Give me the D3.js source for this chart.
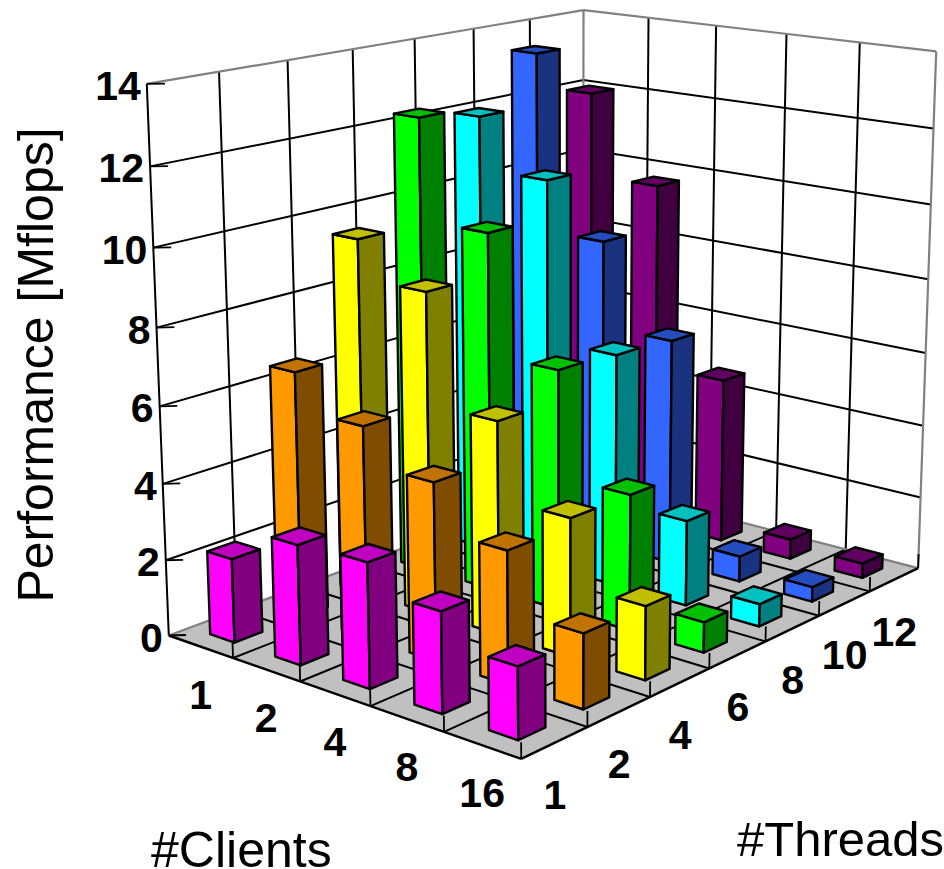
<!DOCTYPE html>
<html>
<head>
<meta charset="utf-8">
<script src="https://cdn.jsdelivr.net/npm/d3@7/dist/d3.min.js"></script>
<style>
  html, body { margin: 0; padding: 0; background: #fff; }
  svg { display: block; }
  text { font-family: "Liberation Sans", Arial, sans-serif; fill: #000; }
</style>
</head>
<body>
<svg id="chart" width="944" height="869"></svg>
<script>
const threads = ["1", "2", "4", "6", "8", "10", "12"];
const clients = ["1", "2", "4", "8", "16"];
const zTicks = [0, 2, 4, 6, 8, 10, 12, 14];

// one row per client count, one value per thread count
const clients1 = [2.2, 6.5, 9.5, 12.3, 12.0, 13.4, 12.0];
const clients2 = [3.1, 5.55, 8.5, 9.6, 10.6, 8.55, 9.7];
const clients4 = [3.2, 4.6, 5.6, 6.4, 6.3, 6.2, 4.6];
const clients8 = [2.55, 3.4, 3.6, 3.6, 2.3, 0.7, 0.55];
const clients16 = [1.8, 1.9, 1.9, 0.8, 0.6, 0.4, 0.4];
const rows = [clients1, clients2, clients4, clients8, clients16];

const faceFront = ["#ff00ff", "#ff9900", "#ffff00", "#00ff00", "#00ffff", "#3366ff", "#800080"];
const faceSide = ["#800080", "#804d00", "#808000", "#008000", "#008080", "#1a3380", "#400040"];
const faceTop = ["#c000c0", "#c07300", "#c0c000", "#00c000", "#00c0c0", "#264dc0", "#600060"];

const barU = 0.41;
const barV = 0.38;
const barShiftU = 0.02;

const uScale = d3.scaleBand().domain(threads).range([0, threads.length]);
const vScale = d3.scaleBand().domain(clients).range([0, clients.length]);
const zScale = d3.scaleLinear().domain([0, 14]).range([0, 14]);
const uMax = threads.length;
const vMax = clients.length;

// camera calibration: box position -> picture position
const anchors = [
  [0, 0, 0, 168, 636], [0, 5, 0, 522, 758], [7, 5, 0, 919, 568], [7, 0, 0, 582, 480],
  [0, 0, 14, 146, 84], [7, 0, 14, 584, 10], [7, 5, 14, 937, 52],
  [0, 0, 12, 150, 166], [7, 0, 12, 584, 81], [7, 5, 12, 933, 128],
  [0, 0, 2, 166, 560], [7, 5, 8, 927, 278],
  [0, 1, 0, 234, 658], [0, 2, 0, 301, 682], [0, 3, 0, 370, 706], [0, 4, 0, 444, 732],
  [1, 5, 0, 588, 727], [2, 5, 0, 650, 697], [3, 5, 0, 708, 668],
  [4, 5, 0, 764, 642], [5, 5, 0, 820, 616], [6, 5, 0, 870, 593],
];

function solve(A, b) {
  const n = b.length;
  const m = A.map((r, i) => [...r, b[i]]);
  for (let i = 0; i < n; i++) {
    let p = i;
    for (let k = i + 1; k < n; k++) if (Math.abs(m[k][i]) > Math.abs(m[p][i])) p = k;
    [m[i], m[p]] = [m[p], m[i]];
    for (let k = i + 1; k < n; k++) {
      const f = m[k][i] / m[i][i];
      for (let j = i; j <= n; j++) m[k][j] -= f * m[i][j];
    }
  }
  const x = new Array(n).fill(0);
  for (let i = n - 1; i >= 0; i--) {
    let s = m[i][n];
    for (let j = i + 1; j < n; j++) s -= m[i][j] * x[j];
    x[i] = s / m[i][i];
  }
  return x;
}

function fitCamera() {
  const rowsA = [];
  const rhs = [];
  anchors.forEach(([u, v, z, x, y]) => {
    rowsA.push([u, v, z, 1, 0, 0, 0, 0, -x * u, -x * v, -x * z]);
    rhs.push(x);
    rowsA.push([0, 0, 0, 0, u, v, z, 1, -y * u, -y * v, -y * z]);
    rhs.push(y);
  });
  const ata = d3.range(11).map(i => d3.range(11).map(j => d3.sum(rowsA, r => r[i] * r[j])));
  const atb = d3.range(11).map(i => d3.sum(rowsA, (r, k) => r[i] * rhs[k]));
  return solve(ata, atb);
}

const cam = fitCamera();

function project(u, v, z) {
  const w = cam[8] * u + cam[9] * v + cam[10] * z + 1;
  return [
    (cam[0] * u + cam[1] * v + cam[2] * z + cam[3]) / w,
    (cam[4] * u + cam[5] * v + cam[6] * z + cam[7]) / w,
  ];
}

const svg = d3.select("#chart");
const line = d3.line();

function seg(g, a, b, color, width) {
  g.append("path")
    .attr("d", line([project(...a), project(...b)]))
    .attr("fill", "none")
    .attr("stroke", color)
    .attr("stroke-width", width);
}

function poly(g, pts, fill) {
  g.append("path")
    .attr("d", line(pts.map(p => project(...p))) + "Z")
    .attr("fill", fill)
    .attr("stroke", "#000")
    .attr("stroke-width", 2.4)
    .attr("stroke-linejoin", "round");
}

// walls
const walls = svg.append("g");
zTicks.slice(1, -1).forEach(t => {
  const z = zScale(t);
  walls.append("path")
    .attr("d", line([[0, 0, z], [uMax, 0, z], [uMax, vMax, z]].map(p => project(...p))))
    .attr("fill", "none").attr("stroke", "#000").attr("stroke-width", 2);
});
d3.range(1, uMax).forEach(u => seg(walls, [u, 0, 0], [u, 0, 14], "#000", 2));
d3.range(1, vMax).forEach(v => seg(walls, [uMax, v, 0], [uMax, v, 14], "#000", 2));
seg(walls, [0, 0, 14], [uMax, 0, 14], "#808080", 2.2);
seg(walls, [uMax, 0, 14], [uMax, vMax, 14], "#808080", 2.2);
seg(walls, [uMax, 0, 0], [uMax, 0, 14], "#808080", 2.2);
seg(walls, [uMax, vMax, 0], [uMax, vMax, 14], "#808080", 2.2);
seg(walls, [0, 0, 0], [0, 0, 14], "#000", 2);

// floor
const floor = svg.append("g");
floor.append("path")
  .attr("d", line([[0, 0, 0], [0, vMax, 0], [uMax, vMax, 0], [uMax, 0, 0]].map(p => project(...p))) + "Z")
  .attr("fill", "#c0c0c0");
d3.range(1, uMax).forEach(u => seg(floor, [u, 0, 0], [u, vMax, 0], "#000", 2));
d3.range(1, vMax).forEach(v => seg(floor, [0, v, 0], [uMax, v, 0], "#000", 2));
seg(floor, [0, 0, 0], [uMax, 0, 0], "#808080", 2.2);
seg(floor, [uMax, 0, 0], [uMax, vMax, 0], "#808080", 2.2);
seg(floor, [0, 0, 0], [0, vMax, 0], "#000", 2.4);
seg(floor, [0, vMax, 0], [uMax, vMax, 0], "#000", 2.4);

// ticks
d3.range(1, vMax + 1).forEach(v => seg(floor, [0, v, 0], [0, v, 0.4], "#000", 1.8));
d3.range(1, uMax + 1).forEach(u => seg(floor, [u, vMax, 0], [u, vMax, 0.4], "#000", 1.8));
zTicks.forEach(t => seg(floor, [0, 0, zScale(t)], [0.13, 0.13, zScale(t)], "#000", 1.8));

// bars, back to front
const bars = svg.append("g");
clients.forEach((c, ci) => {
  for (let ti = threads.length - 1; ti >= 0; ti--) {
    const t = threads[ti];
    const uc = uScale(t) + uScale.bandwidth() / 2 + barShiftU;
    const vc = vScale(c) + vScale.bandwidth() / 2;
    const u0 = uc - barU / 2, u1 = uc + barU / 2;
    const v0 = vc - barV / 2, v1 = vc + barV / 2;
    const z = zScale(rows[ci][ti]);
    const g = bars.append("g");
    poly(g, [[u0, v0, 0], [u0, v1, 0], [u0, v1, z], [u0, v0, z]], faceFront[ti]);
    poly(g, [[u0, v1, 0], [u1, v1, 0], [u1, v1, z], [u0, v1, z]], faceSide[ti]);
    poly(g, [[u0, v0, z], [u1, v0, z], [u1, v1, z], [u0, v1, z]], faceTop[ti]);
  }
});

// labels
const labels = svg.append("g").attr("font-weight", "bold").attr("font-size", 41);
zTicks.forEach(t => {
  const [x, y] = project(0, 0, zScale(t));
  labels.append("text")
    .attr("x", x - 6).attr("y", y + 16)
    .attr("text-anchor", "end")
    .text(t);
});
clients.forEach(c => {
  const [x, y] = project(0, vScale(c) + vScale.bandwidth() / 2, 0);
  labels.append("text")
    .attr("x", x).attr("y", y + 48 + 14)
    .attr("text-anchor", "middle")
    .text(c);
});
threads.forEach(t => {
  const [x, y] = project(uScale(t) + uScale.bandwidth() / 2, vMax, 0);
  labels.append("text")
    .attr("x", x).attr("y", y + 52 + 14)
    .attr("text-anchor", "middle")
    .text(t);
});

svg.append("text").attr("x", 151).attr("y", 867).attr("font-size", 50).text("#Clients");
svg.append("text").attr("x", 737).attr("y", 856).attr("font-size", 49).text("#Threads");
svg.append("text")
  .attr("transform", "translate(53,365) rotate(-90)")
  .attr("text-anchor", "middle")
  .attr("font-size", 50)
  .text("Performance [Mflops]");
</script>
</body>
</html>
